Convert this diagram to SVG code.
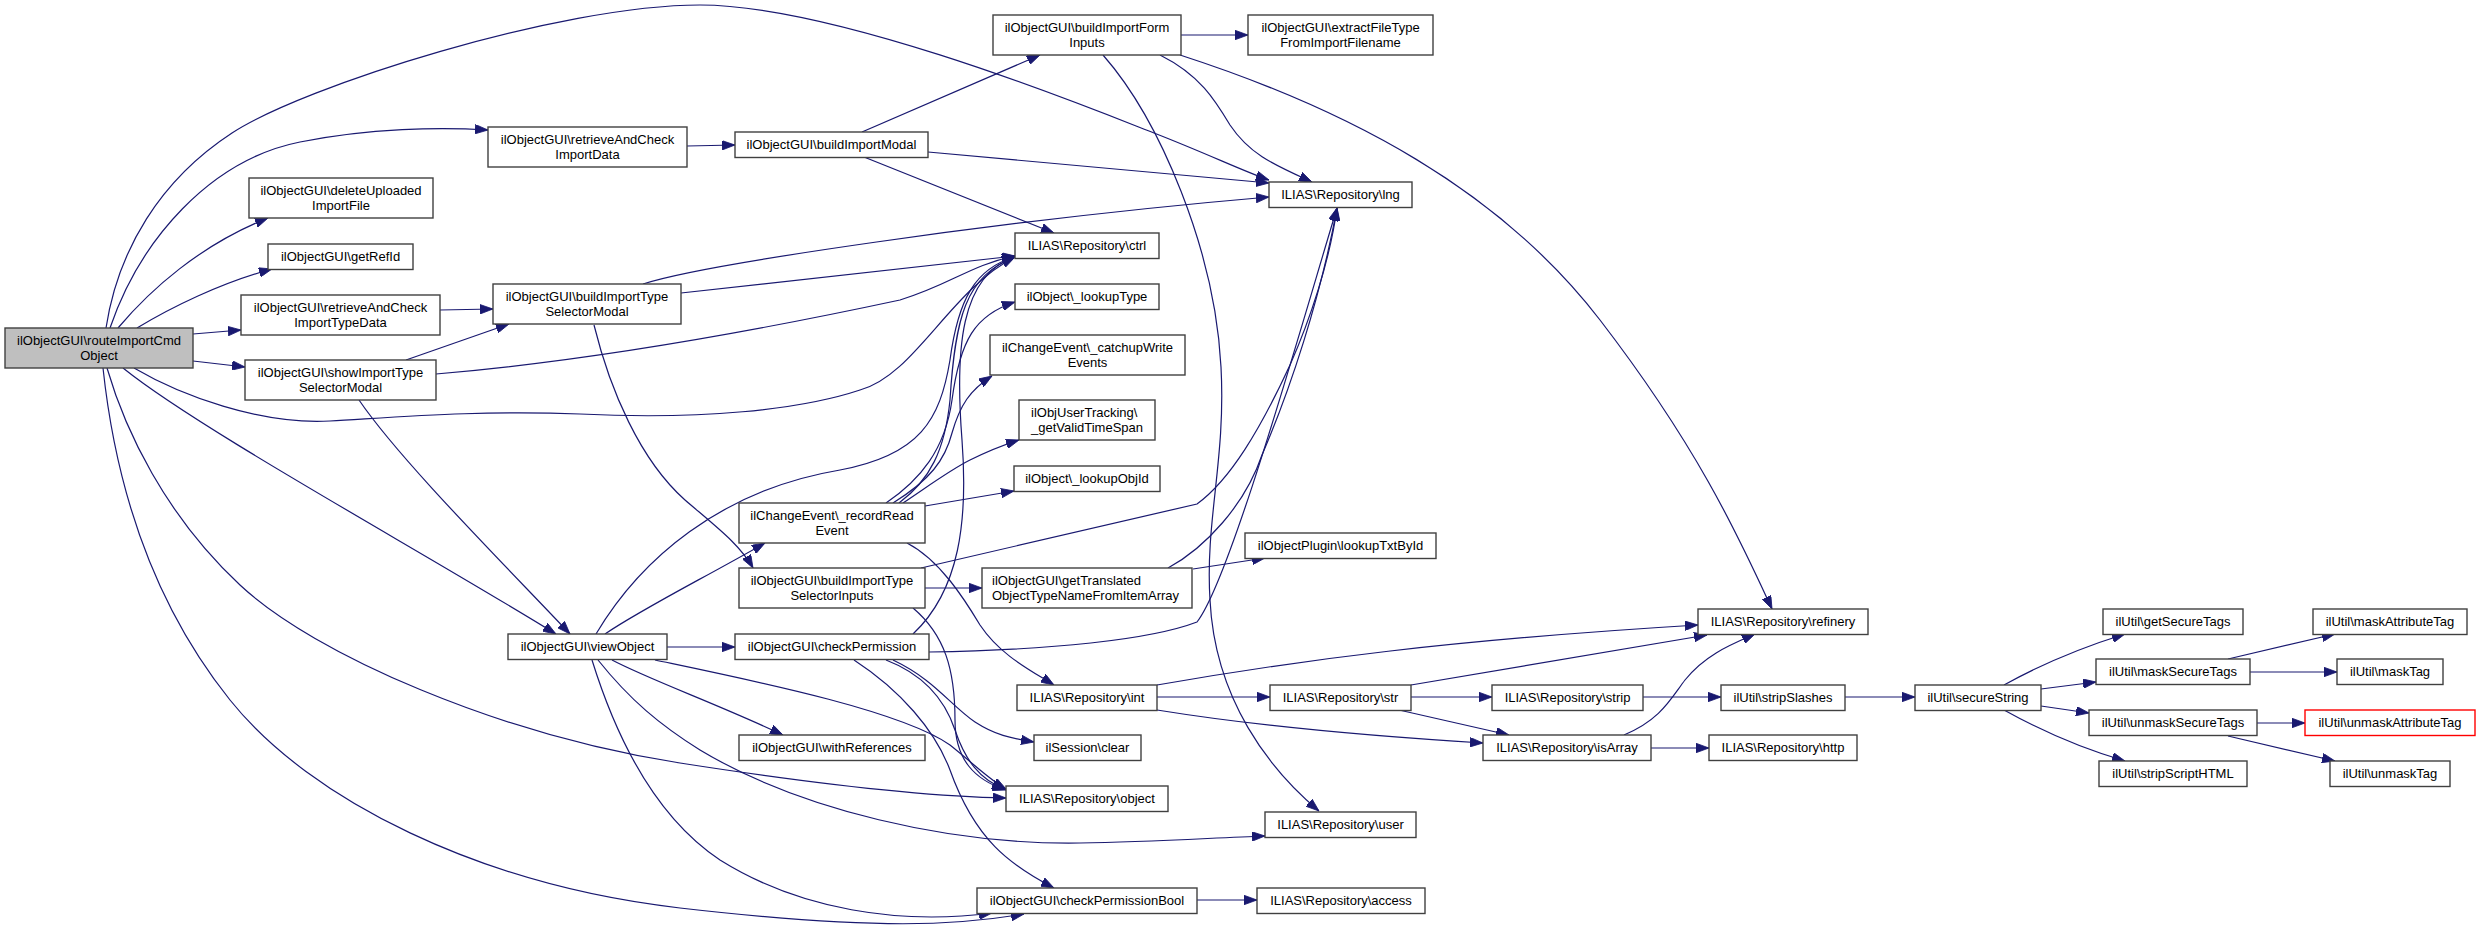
<svg xmlns="http://www.w3.org/2000/svg" width="2480" height="936" viewBox="0 0 2480 936">
<style>
.n rect{fill:#ffffff;stroke:#404040;stroke-width:1.4}
.n text{font-family:"Liberation Sans",Arial,Helvetica,sans-serif;font-size:13px;fill:#000;text-anchor:middle}
.n.left text{text-anchor:start}
#root rect{fill:#bfbfbf}
#n_unmaskAttributeTag rect{stroke:#ff0000}
#edges path{fill:none;stroke:#191970;stroke-width:1.2;marker-end:url(#arr)}
</style>
<defs>
<marker id="arr" viewBox="0 0 13 9.5" refX="13" refY="4.75" markerWidth="13" markerHeight="9.5" markerUnits="userSpaceOnUse" orient="auto">
<path d="M0,0 L13,4.75 L0,9.5 z" fill="#191970" stroke="#191970" stroke-width="0.8"/>
</marker>
</defs>
<rect x="0" y="0" width="2480" height="936" fill="#ffffff"/>
<g id="edges">
<path d="M106,328 C118,250 160,180 232,133 C304,86 560,5 700,5 C840,5 1100,112 1154,133 C1208,154 1245,172 1269,180"/>
<path d="M110,328 C140,240 210,160 300,142 C370,128 440,127 488,130"/>
<path d="M118,328 C150,290 200,245 268,218"/>
<path d="M137,328 C170,308 220,283 272,269"/>
<path d="M193,334 L241,330"/>
<path d="M193,361 L245,367"/>
<path d="M134,368 C180,395 260,425 330,421 C400,417 480,410 580,414 C700,420 800,410 860,390 C915,375 950,290 1015,257"/>
<path d="M123,368 C200,430 420,550 556,634"/>
<path d="M107,368 C125,430 165,515 240,585 C315,655 500,735 680,763 C860,791 950,797 1006,798"/>
<path d="M103,368 C115,480 150,600 230,700 C310,800 480,885 680,908 C880,931 960,925 1024,914"/>
<path d="M687,146 L735,145"/>
<path d="M440,310 L493,309"/>
<path d="M406,360 L509,324"/>
<path d="M436,374 C600,360 760,330 900,300 C950,285 970,265 1015,256"/>
<path d="M359,400 C400,460 500,560 570,634"/>
<path d="M643,284 C700,265 1000,220 1269,197"/>
<path d="M681,293 L1015,256"/>
<path d="M594,325 C610,390 640,460 685,500 C720,530 740,545 753,568"/>
<path d="M596,634 C640,560 720,490 840,470 C920,455 940,420 950,360 C958,300 975,268 1015,257"/>
<path d="M899,503 C930,480 945,450 950,400 C955,320 965,275 1015,257"/>
<path d="M886,503 C920,480 945,450 952,400 C960,340 975,315 1015,302"/>
<path d="M893,503 C930,480 945,460 952,433 C960,405 970,390 992,376"/>
<path d="M903,503 C930,485 950,470 970,460 C990,450 1000,446 1019,440"/>
<path d="M925,506 L1014,491"/>
<path d="M907,543 C940,560 965,600 980,625 C1000,655 1030,670 1054,685"/>
<path d="M605,634 C640,610 700,580 765,543"/>
<path d="M667,647 L735,647"/>
<path d="M612,660 C650,680 720,705 783,735"/>
<path d="M655,660 C750,680 900,710 950,745 C975,765 990,780 1006,789"/>
<path d="M598,660 C630,700 660,725 700,750 C800,810 950,845 1080,843 C1150,842 1210,838 1265,836"/>
<path d="M592,660 C620,750 660,820 720,860 C800,910 900,925 992,913"/>
<path d="M913,634 C960,590 968,520 962,440 C955,350 960,275 1015,257"/>
<path d="M929,652 C1050,650 1150,640 1197,622 C1230,580 1300,330 1337,208"/>
<path d="M921,568 L1197,504 C1230,480 1260,430 1290,365 C1310,320 1330,260 1337,208"/>
<path d="M1168,568 C1205,548 1245,505 1262,455 C1290,390 1320,300 1337,208"/>
<path d="M925,588 L982,588"/>
<path d="M913,608 C945,635 955,670 955,720 C955,760 975,780 1006,790"/>
<path d="M893,660 C935,680 950,705 975,722 C995,735 1010,738 1034,742"/>
<path d="M886,660 C925,675 945,700 955,730 C965,760 980,780 1005,789"/>
<path d="M854,660 C900,690 935,730 950,770 C975,840 1010,865 1054,888"/>
<path d="M1157,685 C1300,660 1450,640 1698,625"/>
<path d="M1157,697 L1270,697"/>
<path d="M1157,710 C1250,725 1350,735 1483,743"/>
<path d="M1411,685 L1707,635"/>
<path d="M1411,697 L1492,697"/>
<path d="M1399,710 L1509,735"/>
<path d="M1643,697 L1721,697"/>
<path d="M1624,735 C1660,720 1670,700 1685,680 C1705,655 1730,645 1755,634"/>
<path d="M1651,748 L1709,748"/>
<path d="M1845,697 L1915,697"/>
<path d="M2004,685 C2040,665 2080,648 2125,634"/>
<path d="M2041,689 L2096,682"/>
<path d="M2041,706 L2089,713"/>
<path d="M2004,710 C2040,730 2080,748 2125,761"/>
<path d="M2228,659 L2335,634"/>
<path d="M2250,672 L2337,672"/>
<path d="M2257,723 L2305,723"/>
<path d="M2228,736 L2335,761"/>
<path d="M1197,900 L1257,900"/>
<path d="M1193,569 L1265,558"/>
<path d="M862,132 L1040,55"/>
<path d="M928,152 L1269,183"/>
<path d="M864,157 L1054,233"/>
<path d="M1181,35 L1248,35"/>
<path d="M1160,55 C1200,75 1215,100 1230,125 C1250,155 1275,165 1312,182"/>
<path d="M1180,55 C1350,110 1500,190 1600,320 C1700,450 1740,540 1772,609"/>
<path d="M1103,55 C1160,120 1215,250 1221,367 C1226,460 1205,520 1210,600 C1215,700 1270,770 1319,811"/>
</g>
<g id="root" class="n"><rect x="5" y="328" width="188" height="40"/><text x="99" y="344.5">ilObjectGUI\routeImportCmd</text><text x="99" y="359.5">Object</text></g>
<g id="n_retrieveImportData" class="n"><rect x="488" y="127" width="199" height="40"/><text x="587.5" y="143.5">ilObjectGUI\retrieveAndCheck</text><text x="587.5" y="158.5">ImportData</text></g>
<g id="n_deleteUploaded" class="n"><rect x="249" y="178" width="184" height="40"/><text x="341" y="194.5">ilObjectGUI\deleteUploaded</text><text x="341" y="209.5">ImportFile</text></g>
<g id="n_getRefId" class="n"><rect x="268" y="244" width="145" height="25.5"/><text x="340.5" y="261">ilObjectGUI\getRefId</text></g>
<g id="n_retrieveImportTypeData" class="n"><rect x="241" y="295" width="199" height="40"/><text x="340.5" y="311.5">ilObjectGUI\retrieveAndCheck</text><text x="340.5" y="326.5">ImportTypeData</text></g>
<g id="n_showImportType" class="n"><rect x="245" y="360" width="191" height="40"/><text x="340.5" y="376.5">ilObjectGUI\showImportType</text><text x="340.5" y="391.5">SelectorModal</text></g>
<g id="n_buildImportTypeModal" class="n"><rect x="493" y="284" width="188" height="40"/><text x="587" y="300.5">ilObjectGUI\buildImportType</text><text x="587" y="315.5">SelectorModal</text></g>
<g id="n_viewObject" class="n"><rect x="508" y="634" width="159" height="25.5"/><text x="587.5" y="651">ilObjectGUI\viewObject</text></g>
<g id="n_buildImportModal" class="n"><rect x="735" y="132" width="193" height="25.5"/><text x="831.5" y="149">ilObjectGUI\buildImportModal</text></g>
<g id="n_recordRead" class="n"><rect x="739" y="503" width="186" height="40"/><text x="832" y="519.5">ilChangeEvent\_recordRead</text><text x="832" y="534.5">Event</text></g>
<g id="n_buildImportTypeInputs" class="n"><rect x="739" y="568" width="186" height="40"/><text x="832" y="584.5">ilObjectGUI\buildImportType</text><text x="832" y="599.5">SelectorInputs</text></g>
<g id="n_checkPermission" class="n"><rect x="735" y="634" width="194" height="25.5"/><text x="832" y="651">ilObjectGUI\checkPermission</text></g>
<g id="n_withReferences" class="n"><rect x="739" y="735" width="186" height="25.5"/><text x="832" y="752">ilObjectGUI\withReferences</text></g>
<g id="n_buildImportForm" class="n"><rect x="993" y="15" width="188" height="40"/><text x="1087" y="31.5">ilObjectGUI\buildImportForm</text><text x="1087" y="46.5">Inputs</text></g>
<g id="n_ctrl" class="n"><rect x="1015" y="233" width="144" height="25.5"/><text x="1087" y="250">ILIAS\Repository\ctrl</text></g>
<g id="n_lookupType" class="n"><rect x="1015" y="284" width="144" height="25.5"/><text x="1087" y="301">ilObject\_lookupType</text></g>
<g id="n_catchupWrite" class="n"><rect x="990" y="335" width="195" height="40"/><text x="1087.5" y="351.5">ilChangeEvent\_catchupWrite</text><text x="1087.5" y="366.5">Events</text></g>
<g id="n_getValidTimeSpan" class="n left"><rect x="1019" y="400" width="136" height="40"/><text x="1031" y="416.5">ilObjUserTracking\</text><text x="1031" y="431.5">_getValidTimeSpan</text></g>
<g id="n_lookupObjId" class="n"><rect x="1014" y="466" width="146" height="25.5"/><text x="1087" y="483">ilObject\_lookupObjId</text></g>
<g id="n_getTranslated" class="n left"><rect x="982" y="568" width="210" height="40"/><text x="992" y="584.5">ilObjectGUI\getTranslated</text><text x="992" y="599.5">ObjectTypeNameFromItemArray</text></g>
<g id="n_lookupTxtById" class="n"><rect x="1245" y="533" width="191" height="25.5"/><text x="1340.5" y="550">ilObjectPlugin\lookupTxtById</text></g>
<g id="n_int" class="n"><rect x="1017" y="685" width="140" height="25.5"/><text x="1087" y="702">ILIAS\Repository\int</text></g>
<g id="n_sessionClear" class="n"><rect x="1034" y="735" width="107" height="25.5"/><text x="1087.5" y="752">ilSession\clear</text></g>
<g id="n_object" class="n"><rect x="1006" y="786" width="162" height="25.5"/><text x="1087" y="803">ILIAS\Repository\object</text></g>
<g id="n_checkPermissionBool" class="n"><rect x="977" y="888" width="220" height="25.5"/><text x="1087" y="905">ilObjectGUI\checkPermissionBool</text></g>
<g id="n_extractFileType" class="n"><rect x="1248" y="15" width="185" height="40"/><text x="1340.5" y="31.5">ilObjectGUI\extractFileType</text><text x="1340.5" y="46.5">FromImportFilename</text></g>
<g id="n_lng" class="n"><rect x="1269" y="182" width="143" height="25.5"/><text x="1340.5" y="199">ILIAS\Repository\lng</text></g>
<g id="n_str" class="n"><rect x="1270" y="685" width="141" height="25.5"/><text x="1340.5" y="702">ILIAS\Repository\str</text></g>
<g id="n_user" class="n"><rect x="1265" y="812" width="151" height="25.5"/><text x="1340.5" y="829">ILIAS\Repository\user</text></g>
<g id="n_access" class="n"><rect x="1257" y="888" width="168" height="25.5"/><text x="1341" y="905">ILIAS\Repository\access</text></g>
<g id="n_strip" class="n"><rect x="1492" y="685" width="151" height="25.5"/><text x="1567.5" y="702">ILIAS\Repository\strip</text></g>
<g id="n_isArray" class="n"><rect x="1483" y="735" width="168" height="25.5"/><text x="1567" y="752">ILIAS\Repository\isArray</text></g>
<g id="n_refinery" class="n"><rect x="1698" y="609" width="170" height="25.5"/><text x="1783" y="626">ILIAS\Repository\refinery</text></g>
<g id="n_stripSlashes" class="n"><rect x="1721" y="685" width="124" height="25.5"/><text x="1783" y="702">ilUtil\stripSlashes</text></g>
<g id="n_http" class="n"><rect x="1709" y="735" width="148" height="25.5"/><text x="1783" y="752">ILIAS\Repository\http</text></g>
<g id="n_secureString" class="n"><rect x="1915" y="685" width="126" height="25.5"/><text x="1978" y="702">ilUtil\secureString</text></g>
<g id="n_getSecureTags" class="n"><rect x="2103" y="609" width="140" height="25.5"/><text x="2173" y="626">ilUtil\getSecureTags</text></g>
<g id="n_maskSecureTags" class="n"><rect x="2096" y="659" width="154" height="25.5"/><text x="2173" y="676">ilUtil\maskSecureTags</text></g>
<g id="n_unmaskSecureTags" class="n"><rect x="2089" y="710" width="168" height="25.5"/><text x="2173" y="727">ilUtil\unmaskSecureTags</text></g>
<g id="n_stripScriptHTML" class="n"><rect x="2099" y="761" width="148" height="25.5"/><text x="2173" y="778">ilUtil\stripScriptHTML</text></g>
<g id="n_maskAttributeTag" class="n"><rect x="2313" y="609" width="154" height="25.5"/><text x="2390" y="626">ilUtil\maskAttributeTag</text></g>
<g id="n_maskTag" class="n"><rect x="2337" y="659" width="106" height="25.5"/><text x="2390" y="676">ilUtil\maskTag</text></g>
<g id="n_unmaskAttributeTag" class="n"><rect x="2305" y="710" width="170" height="25.5"/><text x="2390" y="727">ilUtil\unmaskAttributeTag</text></g>
<g id="n_unmaskTag" class="n"><rect x="2330" y="761" width="120" height="25.5"/><text x="2390" y="778">ilUtil\unmaskTag</text></g>
</svg>
